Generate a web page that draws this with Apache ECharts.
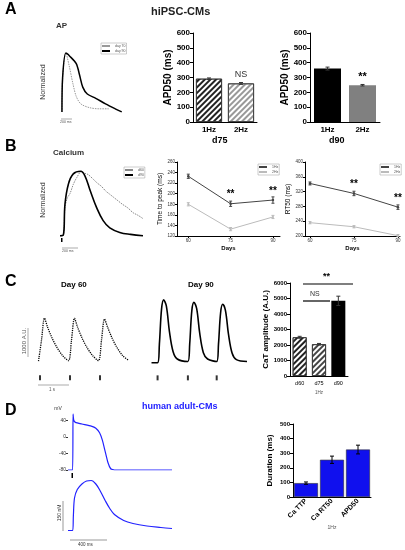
<!DOCTYPE html>
<html><head><meta charset="utf-8">
<script src="https://cdn.jsdelivr.net/npm/echarts@6/dist/echarts.min.js"></script>
<style>html,body{margin:0;padding:0;background:#fff}#c{width:405px;height:550px}</style>
</head><body><div id="c"></div>
<script>
// ---------- DATA ----------
const apDay90 = [[3,0.05],[4,0.6],[9,1.0],[15,0.95],[25,0.83],[30,0.65],[35,0.45],[42,0.34],[55,0.27],[70,0.18],[85,0.1],[95,0.05]];
const apDay70 = [[3,0.05],[4,0.6],[9,1.0],[14,0.8],[20,0.5],[25,0.3],[32,0.18],[45,0.12],[60,0.1],[75,0.1]];
const freqCats = ['1Hz','2Hz'];
const apd50d75 = [292, 260];
const apd50d75Err = [5, 6];
const apd50d90 = [360, 248];
const apd50d90Err = [10, 5];
const caD90 = [[0,0.02],[4,0.03],[6,0.5],[10,0.8],[16,0.96],[25,1.0],[30,0.93],[36,0.72],[44,0.45],[52,0.25],[60,0.14],[72,0.07],[85,0.04],[100,0.02]];
const caD60 = [[0,0.02],[4,0.03],[6,0.45],[9,0.6],[12,0.66],[16,0.8],[20,0.9],[26,1.0],[30,0.97],[34,0.95],[40,0.88],[45,0.82],[50,0.77],[55,0.7],[60,0.65],[65,0.6],[70,0.55],[75,0.5],[82,0.44],[88,0.37],[94,0.33],[100,0.28]];
const days = [60, 75, 90];
const ttp1Hz = [233, 181, 188];
const ttp1HzErr = [4, 5, 6];
const ttp2Hz = [180, 133, 156];
const ttp2HzErr = [3, 3, 3];
const rt1Hz = [342, 315, 278];
const rt1HzErr = [4, 6, 6];
const rt2Hz = [236, 225, 201];
const rt2HzErr = [3, 3, 3];
const day60Trace = [[50,0.02],[150,0.5],[250,1.0],[350,0.8],[500,0.55],[650,0.35],[850,0.15],[1050,0.03],
  [1150,0.5],[1250,1.0],[1350,0.8],[1500,0.55],[1650,0.35],[1850,0.15],[2050,0.03],
  [2150,0.5],[2250,0.98],[2350,0.8],[2500,0.55],[2650,0.35],[2850,0.15],[3050,0.04]];
const day90Trace = [[50,0.0],[250,0.0],[310,0.3],[380,0.85],[450,1.0],[540,0.9],[640,0.5],[760,0.18],[900,0.06],[1250,0.02],
  [1310,0.3],[1380,0.83],[1450,0.96],[1540,0.86],[1640,0.47],[1760,0.16],[1900,0.06],[2200,0.02],
  [2260,0.3],[2330,0.8],[2400,0.93],[2490,0.83],[2590,0.45],[2710,0.15],[2850,0.05],[3200,0.02]];
const day60Stim = [[100,-0.36],[1100,-0.36],[2100,-0.36]];
const day90Stim = [[250,-0.24],[1250,-0.24],[2200,-0.24]];
const ageCats = ['d60','d75','d90'];
const catAmp = [2500, 2050, 4850];
const catAmpErr = [60, 50, 300];
const humanAP = [[0,-80],[50,-80],[54,55],[62,40],[80,35],[150,31],[250,26],[300,21],[340,10],[370,-8],[400,-35],[430,-62],[460,-77],[500,-80],[600,-80],[1120,-80]];
const humanCa = [[0,0],[50,0],[58,0.3],[70,0.65],[100,0.82],[150,0.93],[200,0.99],[250,1.0],[300,0.93],[350,0.78],[400,0.6],[450,0.44],[500,0.32],[600,0.2],[700,0.14],[850,0.09],[1000,0.06],[1120,0.04]];
const durCats = ['Ca TTP','Ca RT50','APD50'];
const durVals = [95, 255, 325];
const durErr = [8, 25, 30];

// ---------- HELPERS ----------
const F = 'Liberation Sans, Arial, sans-serif';
const BLUE = '#2222ff';
function errSeries(xi, yi, vals, errs, xs, color, w) {
  return {type:'custom', xAxisIndex:xi, yAxisIndex:yi, z:10,
    data: vals.map((v,i)=>[xs?xs[i]:i, v, errs[i]]),
    renderItem:(p,api)=>{
      const x=api.value(0), v=api.value(1), e=api.value(2);
      const a=api.coord([x,v+e]), b=api.coord([x,v-e]);
      const st={stroke:color||'#000', lineWidth:1};
      return {type:'group', children:[
        {type:'line', shape:{x1:a[0],y1:a[1],x2:b[0],y2:b[1]}, style:st},
        {type:'line', shape:{x1:a[0]-w,y1:a[1],x2:a[0]+w,y2:a[1]}, style:st},
        {type:'line', shape:{x1:b[0]-w,y1:b[1],x2:b[0]+w,y2:b[1]}, style:st}]};
    }};
}
const hidden = {show:false};
function hx(min,max,gi){return {type:'value',gridIndex:gi,min,max,show:false};}
function barY(gi,max,interval,name,fs,nameGap){return {type:'value',gridIndex:gi,min:0,max,interval,name,nameLocation:'middle',nameGap,
  nameTextStyle:{fontFamily:F,fontWeight:'bold',fontSize:fs,color:'#000'},
  axisLine:{show:true,lineStyle:{color:'#000'}},axisTick:{show:true,length:3,lineStyle:{color:'#000'}},splitLine:hidden,
  axisLabel:{fontFamily:F,fontWeight:'bold',fontSize:fs-2,color:'#000',margin:3,formatter:v=>String(v)}};}
function catX(gi,data,fs,bold,extra){return Object.assign({type:'category',gridIndex:gi,data,
  axisLine:{lineStyle:{color:'#000'}},axisTick:hidden,
  axisLabel:{fontFamily:F,fontWeight:bold?'bold':'normal',fontSize:fs,color:'#000',margin:4}},extra||{});}
function hatch(col){return {color:'#fff',borderColor:'#333',borderWidth:0.8,
  decal:{symbol:'rect',symbolSize:1,dashArrayX:[1,0],dashArrayY:[1.5,1.8],rotation:-Math.PI/4,color:col}};}
const smallAx = {fontFamily:F,fontSize:4.5,color:'#333',margin:2};
const legBase = {orient:'vertical',itemWidth:8,itemHeight:2,itemGap:1,padding:1,borderColor:'#999',borderWidth:0.5,icon:'rect',
  textStyle:{fontSize:3.5,fontFamily:F,color:'#555'},selectedMode:false};

const option = {
  animation:false,
  grid:[
    {left:60,top:50,width:65,height:65},
    {left:193,top:33,width:64,height:89},
    {left:310,top:33,width:70,height:89},
    {left:60,top:168,width:83,height:69},
    {left:177,top:162,width:103,height:74},
    {left:305,top:162,width:95,height:74},
    {left:37,top:316,width:93,height:64},
    {left:150,top:298,width:97,height:83},
    {left:290,top:283,width:58,height:93},
    {left:68,top:412,width:104,height:58},
    {left:68,top:478,width:104,height:55},
    {left:293,top:424,width:78,height:73}
  ],
  xAxis:[
    hx(0,100,0),
    catX(1,freqCats,8,true),
    catX(2,freqCats,8,true),
    hx(0,100,3),
    {type:'value',gridIndex:4,min:56,max:92.5,axisLine:{lineStyle:{color:'#000'}},splitLine:hidden,
      axisTick:{customValues:days,length:2},axisLabel:Object.assign({customValues:days},smallAx),
      name:'Days',nameLocation:'middle',nameGap:9,nameTextStyle:{fontFamily:F,fontSize:6,fontWeight:'bold'}},
    {type:'value',gridIndex:5,min:58.3,max:90.7,axisLine:{lineStyle:{color:'#000'}},splitLine:hidden,
      axisTick:{customValues:days,length:2},axisLabel:Object.assign({customValues:days},smallAx),
      name:'Days',nameLocation:'middle',nameGap:9,nameTextStyle:{fontFamily:F,fontSize:6,fontWeight:'bold'}},
    hx(0,3100,6),
    hx(0,3200,7),
    catX(8,ageCats,5.5,false,{name:'1Hz',nameLocation:'middle',nameGap:14,nameTextStyle:{fontFamily:F,fontSize:4.5,color:'#555'}}),
    hx(0,1120,9),
    hx(0,1120,10),
    catX(11,durCats,7,true,{axisLabel:{fontFamily:F,fontWeight:'bold',fontSize:7,color:'#000',rotate:45,margin:3},
      name:'1Hz',nameLocation:'middle',nameGap:23,nameTextStyle:{fontFamily:F,fontSize:5,color:'#555'}})
  ],
  yAxis:[
    {type:'value',gridIndex:0,min:0,max:1.05,show:false},
    barY(1,600,100,'APD50 (ms)',10,20),
    barY(2,600,100,'APD50 (ms)',10,20),
    {type:'value',gridIndex:3,min:0,max:1.05,show:false},
    {type:'value',gridIndex:4,min:120,max:260,interval:20,splitLine:hidden,axisLine:{show:true,lineStyle:{color:'#000'}},
      axisTick:{show:true,length:2},axisLabel:smallAx,name:'Time to peak (ms)',nameLocation:'middle',nameGap:11,
      nameTextStyle:{fontFamily:F,fontSize:6.5}},
    {type:'value',gridIndex:5,min:200,max:400,interval:40,splitLine:hidden,axisLine:{show:true,lineStyle:{color:'#000'}},
      axisTick:{show:true,length:2},axisLabel:smallAx,name:'RT50 (ms)',nameLocation:'middle',nameGap:11,
      nameTextStyle:{fontFamily:F,fontSize:6.5}},
    {type:'value',gridIndex:6,min:-0.41,max:1.05,show:false},
    {type:'value',gridIndex:7,min:-0.29,max:1.03,show:false},
    barY(8,6000,1000,'CaT amplitude (A.U.)',8,14),
    {type:'value',gridIndex:9,min:-80,max:60,interval:40,splitLine:hidden,axisLine:hidden,
      axisTick:{show:true,length:2,lineStyle:{color:'#333'}},axisLabel:{fontFamily:F,fontSize:5,color:'#333',margin:2,showMaxLabel:false},
      name:'mV',nameGap:1,nameTextStyle:{fontFamily:F,fontSize:5,color:'#333',padding:[0,20,0,0]}},
    {type:'value',gridIndex:10,min:-0.05,max:1.05,show:false},
    barY(11,500,100,'Duration (ms)',8,19)
  ],
  legend:[
    Object.assign({left:101,top:43,data:['day 70','day 90']},legBase),
    Object.assign({left:124,top:167,data:['d60','d90']},legBase),
    Object.assign({left:258,top:164,data:['1Hz','2Hz']},legBase),
    Object.assign({left:380,top:164,data:['1Hz','2Hz']},legBase)
  ],
  series:[
    {name:'day 70',type:'line',xAxisIndex:0,yAxisIndex:0,data:apDay70,smooth:0.3,showSymbol:false,lineStyle:{color:'#999',width:1,type:[1.5,1]},itemStyle:{color:'#999'}},
    {name:'day 90',type:'line',xAxisIndex:0,yAxisIndex:0,data:apDay90,smooth:0.3,showSymbol:false,lineStyle:{color:'#000',width:1.5},itemStyle:{color:'#000'}},
    {type:'bar',xAxisIndex:1,yAxisIndex:1,barWidth:26,
      data:[{value:apd50d75[0],itemStyle:hatch('#222')},
            {value:apd50d75[1],itemStyle:hatch('#999'),label:{show:true,position:'top',formatter:'NS',fontFamily:F,fontSize:9,color:'#333',distance:4}}]},
    errSeries(1,1,apd50d75,apd50d75Err,null,'#333',2),
    {type:'bar',xAxisIndex:2,yAxisIndex:2,barWidth:27,
      data:[{value:apd50d90[0],itemStyle:{color:'#000'}},
            {value:apd50d90[1],itemStyle:{color:'#808080'},label:{show:true,position:'top',formatter:'**',fontFamily:F,fontWeight:'bold',fontSize:11,color:'#000',distance:3}}]},
    errSeries(2,2,apd50d90,apd50d90Err,null,'#333',2),
    {name:'d60',type:'line',xAxisIndex:3,yAxisIndex:3,data:caD60,smooth:0.3,showSymbol:false,lineStyle:{color:'#888',width:1,type:[1.5,1]},itemStyle:{color:'#888'}},
    {name:'d90',type:'line',xAxisIndex:3,yAxisIndex:3,data:caD90,smooth:0.4,showSymbol:false,lineStyle:{color:'#000',width:1.6},itemStyle:{color:'#000'}},
    {name:'1Hz',type:'line',xAxisIndex:4,yAxisIndex:4,symbol:'circle',symbolSize:2.5,lineStyle:{color:'#444',width:1},itemStyle:{color:'#444'},
      data:days.map((d,i)=>({value:[d,ttp1Hz[i]],label:{show:i>0,position:'top',formatter:'**',fontSize:10,fontWeight:'bold',color:'#000',distance:3}}))},
    {name:'2Hz',type:'line',xAxisIndex:4,yAxisIndex:4,symbol:'circle',symbolSize:2,lineStyle:{color:'#bbb',width:1},itemStyle:{color:'#bbb'},
      data:days.map((d,i)=>[d,ttp2Hz[i]])},
    errSeries(4,4,ttp1Hz,ttp1HzErr,days,'#444',1.5),
    errSeries(4,4,ttp2Hz,ttp2HzErr,days,'#bbb',1.5),
    {name:'1Hz',type:'line',xAxisIndex:5,yAxisIndex:5,symbol:'circle',symbolSize:2.5,lineStyle:{color:'#444',width:1},itemStyle:{color:'#444'},
      data:days.map((d,i)=>({value:[d,rt1Hz[i]],label:{show:i>0,position:'top',formatter:'**',fontSize:10,fontWeight:'bold',color:'#000',distance:3}}))},
    {name:'2Hz',type:'line',xAxisIndex:5,yAxisIndex:5,symbol:'circle',symbolSize:2,lineStyle:{color:'#bbb',width:1},itemStyle:{color:'#bbb'},
      data:days.map((d,i)=>[d,rt2Hz[i]])},
    errSeries(5,5,rt1Hz,rt1HzErr,days,'#444',1.5),
    errSeries(5,5,rt2Hz,rt2HzErr,days,'#bbb',1.5),
    {type:'line',xAxisIndex:6,yAxisIndex:6,data:day60Trace,smooth:0.3,showSymbol:false,lineStyle:{color:'#000',width:1.3,type:[1.2,1]}},
    {type:'scatter',xAxisIndex:6,yAxisIndex:6,data:day60Stim,symbol:'rect',symbolSize:[2,5],itemStyle:{color:'#000'}},
    {type:'line',xAxisIndex:7,yAxisIndex:7,data:day90Trace,smooth:0.35,showSymbol:false,lineStyle:{color:'#000',width:1.6}},
    {type:'scatter',xAxisIndex:7,yAxisIndex:7,data:day90Stim,symbol:'rect',symbolSize:[2,5],itemStyle:{color:'#000'}},
    {type:'bar',xAxisIndex:8,yAxisIndex:8,barWidth:14,
      data:[{value:catAmp[0],itemStyle:hatch('#222')},{value:catAmp[1],itemStyle:hatch('#444')},{value:catAmp[2],itemStyle:{color:'#000'}}]},
    errSeries(8,8,catAmp,catAmpErr,null,'#333',2),
    {type:'line',xAxisIndex:9,yAxisIndex:9,data:humanAP,smooth:0.15,showSymbol:false,lineStyle:{color:BLUE,width:1.2}},
    {type:'line',xAxisIndex:10,yAxisIndex:10,data:humanCa,smooth:0.35,showSymbol:false,lineStyle:{color:BLUE,width:1.2}},
    {type:'bar',xAxisIndex:11,yAxisIndex:11,barWidth:24,data:durVals,itemStyle:{color:'#1010ee',borderColor:'#333',borderWidth:0.6}},
    errSeries(11,11,durVals,durErr,null,'#000',2)
  ],
  graphic:[
    {type:'text',left:5,top:2,style:{text:'A',font:'bold 16px '+F,fill:'#000'}},
    {type:'text',left:151,top:6,style:{text:'hiPSC-CMs',font:'bold 11px '+F,fill:'#222'}},
    {type:'text',left:56,top:22,style:{text:'AP',font:'bold 8px '+F,fill:'#333'}},
    {type:'text',x:43,y:82,rotation:Math.PI/2,style:{text:'Normalized',font:'7px '+F,fill:'#333',align:'center',verticalAlign:'middle'}},
    {type:'line',shape:{x1:61,y1:119,x2:72,y2:119},style:{stroke:'#555',lineWidth:0.5}},
    {type:'text',left:60,top:120,style:{text:'200 ms',font:'3.5px '+F,fill:'#555'}},
    {type:'text',left:212,top:136,style:{text:'d75',font:'bold 9px '+F,fill:'#000'}},
    {type:'text',left:329,top:136,style:{text:'d90',font:'bold 9px '+F,fill:'#000'}},
    {type:'text',left:5,top:139,style:{text:'B',font:'bold 16px '+F,fill:'#000'}},
    {type:'text',left:53,top:149,style:{text:'Calcium',font:'bold 8px '+F,fill:'#333'}},
    {type:'text',x:43,y:200,rotation:Math.PI/2,style:{text:'Normalized',font:'7px '+F,fill:'#333',align:'center',verticalAlign:'middle'}},
    {type:'rect',shape:{x:61,y:238,width:1.5,height:4},style:{fill:'#000'}},
    {type:'line',shape:{x1:62,y1:248,x2:78,y2:248},style:{stroke:'#555',lineWidth:0.5}},
    {type:'text',left:62,top:249,style:{text:'200 ms',font:'3.5px '+F,fill:'#555'}},
    {type:'text',left:5,top:274,style:{text:'C',font:'bold 16px '+F,fill:'#000'}},
    {type:'text',left:61,top:281,style:{text:'Day 60',font:'bold 8px '+F,fill:'#000'}},
    {type:'text',left:188,top:281,style:{text:'Day 90',font:'bold 8px '+F,fill:'#000'}},
    {type:'text',x:24,y:341,rotation:Math.PI/2,style:{text:'1000 A.U.',font:'6px '+F,fill:'#555',align:'center',verticalAlign:'middle'}},
    {type:'line',shape:{x1:28,y1:328,x2:28,y2:357},style:{stroke:'#555',lineWidth:0.5}},
    {type:'line',shape:{x1:38,y1:385,x2:69,y2:385},style:{stroke:'#555',lineWidth:0.5}},
    {type:'text',left:49,top:387,style:{text:'1 s',font:'4.5px '+F,fill:'#555'}},
    {type:'line',shape:{x1:303,y1:284,x2:353,y2:284},style:{stroke:'#000',lineWidth:1.2}},
    {type:'text',left:323,top:272,style:{text:'**',font:'bold 9px '+F,fill:'#000'}},
    {type:'line',shape:{x1:303,y1:301,x2:330,y2:301},style:{stroke:'#000',lineWidth:1.2}},
    {type:'text',left:310,top:291,style:{text:'NS',font:'7px '+F,fill:'#333'}},
    {type:'text',left:5,top:403,style:{text:'D',font:'bold 16px '+F,fill:'#000'}},
    {type:'text',left:142,top:402,style:{text:'human adult-CMs',font:'bold 9px '+F,fill:BLUE}},
    {type:'rect',shape:{x:71.5,y:473,width:1.5,height:5},style:{fill:'#000'}},
    {type:'text',x:60,y:513,rotation:Math.PI/2,style:{text:'150 nM',font:'5px '+F,fill:'#333',align:'center',verticalAlign:'middle'}},
    {type:'line',shape:{x1:63,y1:501,x2:63,y2:531},style:{stroke:'#333',lineWidth:0.5}},
    {type:'line',shape:{x1:70,y1:540,x2:107,y2:540},style:{stroke:'#333',lineWidth:0.5}},
    {type:'text',left:78,top:542,style:{text:'400 ms',font:'4.5px '+F,fill:'#333'}}
  ]
};
echarts.init(document.getElementById('c')).setOption(option);
</script></body></html>
